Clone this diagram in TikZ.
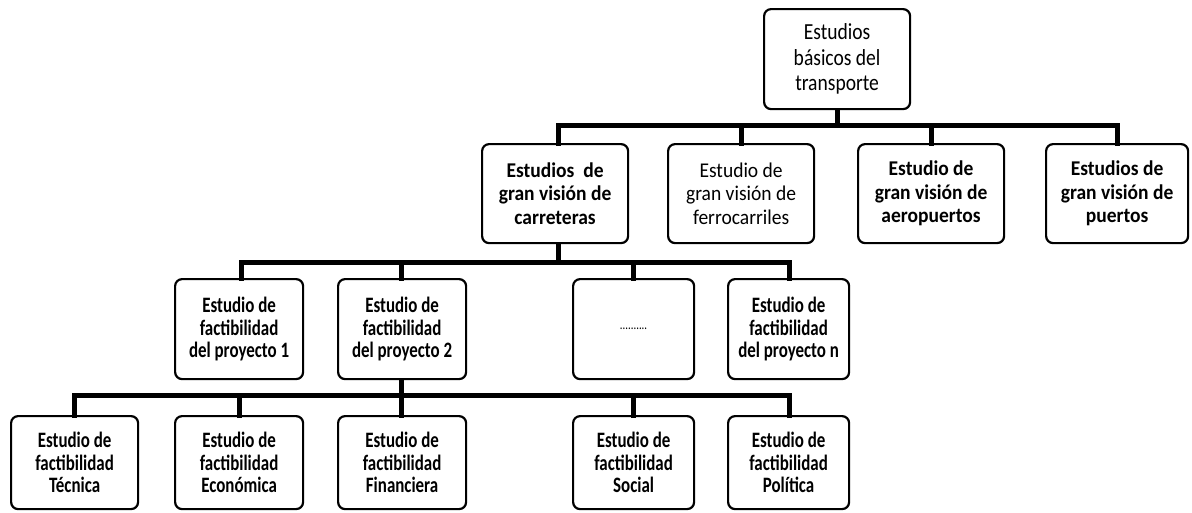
\documentclass[tikz,border=0pt]{standalone}
\usepackage{fontspec}
\setmainfont{Carlito}[FakeStretch=0.77]
\newfontfamily\topfont{Carlito}[FakeStretch=0.85]
\newfontfamily\midfont{Carlito}[FakeStretch=0.93]
\begin{document}
\begin{tikzpicture}[x=1pt,y=-1pt,
  box/.style={draw=black,line width=2.2pt,rounded corners=7pt,fill=white,align=center,inner sep=0pt,anchor=north west},
  bar/.style={line width=5pt,line cap=rect}]
\useasboundingbox (0,0) rectangle (1192,512);
\node[box,minimum width=146pt,minimum height=100pt,font=\topfont\fontsize{23}{25.5}\selectfont] (top) at (763,8) {Estudios\\básicos del\\transporte};
\node[box,minimum width=146pt,minimum height=99pt,font=\midfont\bfseries\fontsize{21}{23.5}\selectfont] (car) at (481,143) {Estudios~ de\\gran visión de\\carreteras};
\node[box,minimum width=146pt,minimum height=99pt,font=\midfont\fontsize{21}{23.5}\selectfont] (fer) at (667,143) {Estudio de\\gran visión de\\ferrocarriles};
\node[box,minimum width=146pt,minimum height=99pt,font=\midfont\bfseries\fontsize{21}{23.5}\selectfont] (aer) at (857,143) {Estudio de\\gran visión de\\aeropuertos};
\node[box,minimum width=142pt,minimum height=99pt,font=\midfont\bfseries\fontsize{21}{23.5}\selectfont] (pue) at (1045,143) {Estudios de\\gran visión de\\puertos};
\tikzset{sm/.style={box,minimum width=128pt,minimum height=100pt,font=\bfseries\fontsize{22}{22.5}\selectfont}}
\node[sm] (p1) at (174,278) {Estudio de\\factibilidad\\del proyecto 1};
\node[sm] (p2) at (337,278) {Estudio de\\factibilidad\\del proyecto 2};
\node[sm,minimum width=121pt,font=\fontsize{14}{14}\selectfont] (pd) at (572,278) {..........};
\node[sm,minimum width=121pt] (pn) at (727,278) {Estudio de\\factibilidad\\del proyecto n};
\tikzset{lo/.style={box,minimum height=93pt,font=\bfseries\fontsize{22}{22.5}\selectfont}}
\node[lo,minimum width=127pt] (tec) at (10,415) {Estudio de\\factibilidad\\Técnica};
\node[lo,minimum width=128pt] (eco) at (174,415) {Estudio de\\factibilidad\\Económica};
\node[lo,minimum width=128pt] (fin) at (337,415) {Estudio de\\factibilidad\\Financiera};
\node[lo,minimum width=121pt] (soc) at (572,415) {Estudio de\\factibilidad\\Social};
\node[lo,minimum width=121pt] (pol) at (727,415) {Estudio de\\factibilidad\\Política};
% connectors level 1
\draw[bar] (top.south) -- (top.south |- 0,125);
\draw[bar] ([xshift=3pt]car.north |- 0,125) -- (pue.north |- 0,125);
\draw[bar] ([xshift=3pt]car.north) -- ([xshift=3pt]car.north |- 0,125);
\draw[bar] (fer.north) -- (fer.north |- 0,125);
\draw[bar] (aer.north) -- (aer.north |- 0,125);
\draw[bar] (pue.north) -- (pue.north |- 0,125);
% level 2
\draw[bar] ([xshift=3pt]car.south) -- ([xshift=3pt]car.south |- 0,262);
\draw[bar] ([xshift=2pt]p1.north |- 0,262) -- ([xshift=1pt]pn.north |- 0,262);
\draw[bar] ([xshift=2pt]p1.north) -- ([xshift=2pt]p1.north |- 0,262);
\draw[bar] ([xshift=-1pt]p2.north) -- ([xshift=-1pt]p2.north |- 0,262);
\draw[bar] (pd.north) -- (pd.north |- 0,262);
\draw[bar] ([xshift=1pt]pn.north) -- ([xshift=1pt]pn.north |- 0,262);
% level 3
\draw[bar] ([xshift=-1pt]p2.south) -- ([xshift=-1pt]p2.south |- 0,395);
\draw[bar] (tec.north |- 0,395) -- ([xshift=1pt]pol.north |- 0,395);
\draw[bar] (tec.north) -- (tec.north |- 0,395);
\draw[bar] (eco.north) -- (eco.north |- 0,395);
\draw[bar] ([xshift=-1pt]fin.north) -- ([xshift=-1pt]fin.north |- 0,395);
\draw[bar] (soc.north) -- (soc.north |- 0,395);
\draw[bar] ([xshift=1pt]pol.north) -- ([xshift=1pt]pol.north |- 0,395);
\end{tikzpicture}
\end{document}
